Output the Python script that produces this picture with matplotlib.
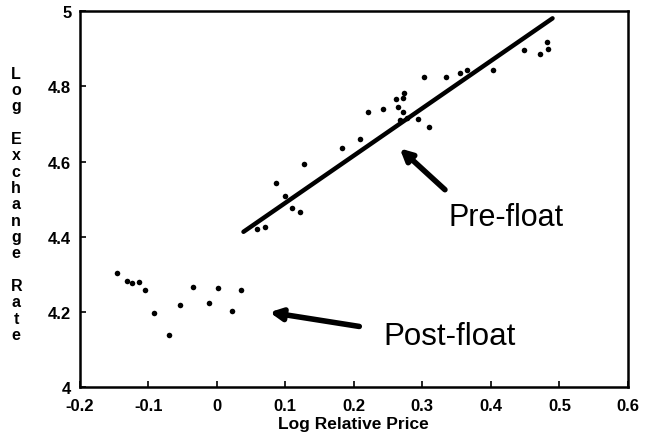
import matplotlib
matplotlib.use("Agg")
import matplotlib.pyplot as plt
import numpy as np

# Post-float observations
post_x = [-0.146, -0.131, -0.124, -0.113, -0.104, -0.092, -0.070, -0.054,
          -0.035, -0.012, 0.002, 0.022, 0.035]
post_y = [4.304, 4.282, 4.277, 4.279, 4.258, 4.197, 4.139, 4.217,
          4.267, 4.223, 4.263, 4.201, 4.259]

# Pre-float observations
pre_x = [0.059, 0.070, 0.086, 0.100, 0.110, 0.121, 0.128, 0.183, 0.209,
         0.221, 0.242, 0.261, 0.273, 0.272, 0.265, 0.272, 0.268, 0.277,
         0.294, 0.309, 0.303, 0.334, 0.355, 0.365, 0.403, 0.448, 0.471,
         0.482, 0.484]
pre_y = [4.421, 4.426, 4.543, 4.507, 4.475, 4.465, 4.593, 4.635, 4.660,
         4.731, 4.741, 4.766, 4.781, 4.770, 4.746, 4.732, 4.710, 4.717,
         4.712, 4.692, 4.826, 4.824, 4.836, 4.844, 4.844, 4.898, 4.885,
         4.919, 4.899]

# Fitted pre-float line endpoints
fit_x = [0.039, 0.490]
fit_y = [4.413, 4.981]

x_ticks = [-0.2, -0.1, 0, 0.1, 0.2, 0.3, 0.4, 0.5, 0.6]
x_tick_labels = ["-0.2", "-0.1", "0", "0.1", "0.2", "0.3", "0.4", "0.5", "0.6"]
y_ticks = [4, 4.2, 4.4, 4.6, 4.8, 5]
y_tick_labels = ["4", "4.2", "4.4", "4.6", "4.8", "5"]

plt.rcParams['font.family'] = ['Liberation Sans', 'DejaVu Sans']

fig = plt.figure(figsize=(6.48, 4.35), dpi=100)
ax = fig.add_axes([0.123, 0.108, 0.846, 0.864])

ax.plot(post_x, post_y, 'o', color='black', markersize=4.0, markeredgewidth=0)
ax.plot(pre_x, pre_y, 'o', color='black', markersize=4.0, markeredgewidth=0)
ax.plot(fit_x, fit_y, '-', color='black', linewidth=3.2, solid_capstyle='round')

ax.set_xlim(-0.2, 0.6)
ax.set_ylim(4, 5)
ax.set_xticks(x_ticks)
ax.set_xticklabels(x_tick_labels, fontsize=12, fontweight='bold')
ax.set_yticks(y_ticks)
ax.set_yticklabels(y_tick_labels, fontsize=12, fontweight='bold')
ax.tick_params(axis='x', direction='in', length=4, width=1.2, pad=8)
ax.tick_params(axis='y', direction='in', length=4, width=1.2, pad=6)
for s in ax.spines.values():
    s.set_linewidth(1.8)

ax.set_xlabel("Log Relative Price", fontsize=12.5, fontweight='bold', labelpad=2)

ylabel = "Log Exchange Rate"
stacked = "\n".join(ch if ch != " " else "" for ch in ylabel)
fig.text(0.025, 0.529, stacked, fontsize=11.5, fontweight='bold',
         ha='center', va='center', linespacing=1.11)

ax.annotate("", xy=(0.264, 4.64), xytext=(0.336, 4.52),
            arrowprops=dict(arrowstyle='-|>,head_length=0.7,head_width=0.35',
                            color='black', lw=4))
ax.text(0.422, 4.453, "Pre-float", fontsize=22, ha='center', va='center')

ax.annotate("", xy=(0.073, 4.2), xytext=(0.212, 4.16),
            arrowprops=dict(arrowstyle='-|>,head_length=0.7,head_width=0.35',
                            color='black', lw=4))
ax.text(0.34, 4.136, "Post-float", fontsize=22.5, ha='center', va='center')

fig.savefig("out.png", dpi=100)
